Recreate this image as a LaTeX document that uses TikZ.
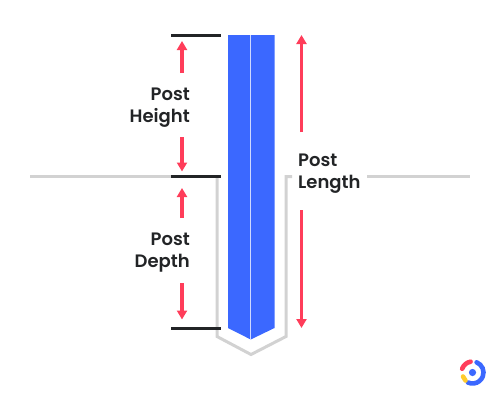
\documentclass[tikz,border=0pt]{standalone}
\usepackage{fontspec}
\setmainfont{Poppins}[BoldFont = {Poppins SemiBold}]
\usepackage{xcolor}
\usepackage{tikz}
\usetikzlibrary{arrows.meta}
\definecolor{postblue}{HTML}{3B68FF}
\definecolor{arrowred}{HTML}{FF3D5A}
\definecolor{groundgrey}{HTML}{D2D2D2}
\definecolor{markblack}{HTML}{222426}
\definecolor{logoyellow}{HTML}{FFCB2E}

\begin{document}
\begin{tikzpicture}[
    x = 1pt, y = -1pt,
    mark line/.style = {
      draw = markblack, line width = 2.8pt
    },
    ground/.style = {
      draw = groundgrey, line width = 3pt
    },
    path/.style = {
      draw = arrowred, line width = 3.2pt,
      arrows = -{Triangle[width = 10pt, length = 9pt]}
    },
    size label/.style = {
      text = markblack, font = \fontsize{18}{22}\selectfont\bfseries,
      align = right, inner sep = 0pt
    },
    ]
    \useasboundingbox (0, 0) rectangle (500, 400);

    % draw ground and hole
    \coordinate (groundl) at (30, 176.5);
    \coordinate (groundm) at (171, 176.5);
    \coordinate (groundr) at (470, 176.5);
    \coordinate (groundq) at (367, 176.5);
    \draw [ground] (groundl) -- (groundm);
    \draw [ground] (groundq) -- (groundr);
    \coordinate (holel) at (217, 176.5);
    \coordinate (holebl) at (217, 336.5);
    \coordinate (holetip) at (251, 354.5);
    \coordinate (holebr) at (286, 336.5);
    \coordinate (holer) at (286, 176.5);
    \coordinate (holeq) at (292, 176.5);
    \draw [ground] (holel) -- (holebl) -- (holetip) -- (holebr) -- (holer) -- (holeq);

    % draw post
    \coordinate (posttl) at (228, 35);
    \coordinate (posttm) at (250.7, 35);
    \coordinate (posttr) at (274.5, 35);
    \coordinate (postbr) at (274.5, 328);
    \coordinate (posttip) at (250.7, 339.5);
    \coordinate (postbl) at (228, 328);
    \fill [postblue] (posttl) -- (posttr) -- (postbr) -- (posttip) -- (postbl) -- cycle;
    \draw [white!75!postblue, line width = 1pt] (posttm) -- (posttip);

    % draw marks
    \foreach \name/\y in {top/35.5, mid/176.5, low/328.5} {
      \coordinate (\name l) at (171, \y);
      \coordinate (\name r) at (221, \y);
      \draw [mark line] (\name l) -- (\name r);
    }

    % draw labels
    \node [size label, anchor = east] (height) at (190, 107.5) {Post\\Height};
    \node [size label, anchor = east] (depth) at (190, 252.5) {Post\\Depth};
    \node [size label, anchor = west, align = left] (length) at (298, 173.5) {Post\\Length};

    % draw paths
    \foreach \name/\x/\a/\b in {hup/182/73/41, hdown/182/137/171.5, dup/182/218/188, ddown/182/283/319.5, lup/301.5/132/35, ldown/301.5/210/328} {
      \coordinate (\name a) at (\x, \a);
      \coordinate (\name b) at (\x, \b);
      \draw [path] (\name a) -- (\name b);
    }

    % draw logo
    \coordinate (logo) at (472.5, 372.5);
    \fill [postblue] (logo) circle [radius = 3.6pt];
    \draw [postblue, line width = 4.6pt, line cap = round] (logo) ++(68:11pt) arc [start angle = 68, end angle = -115, radius = 11pt];
    \draw [arrowred, line width = 4.6pt, line cap = round] (logo) ++(160:11pt) arc [start angle = 160, end angle = 100, radius = 11pt];
    \draw [logoyellow, line width = 4.6pt, line cap = round] (463, 376.5) -- (465.5, 380.5);
\end{tikzpicture}
\end{document}
